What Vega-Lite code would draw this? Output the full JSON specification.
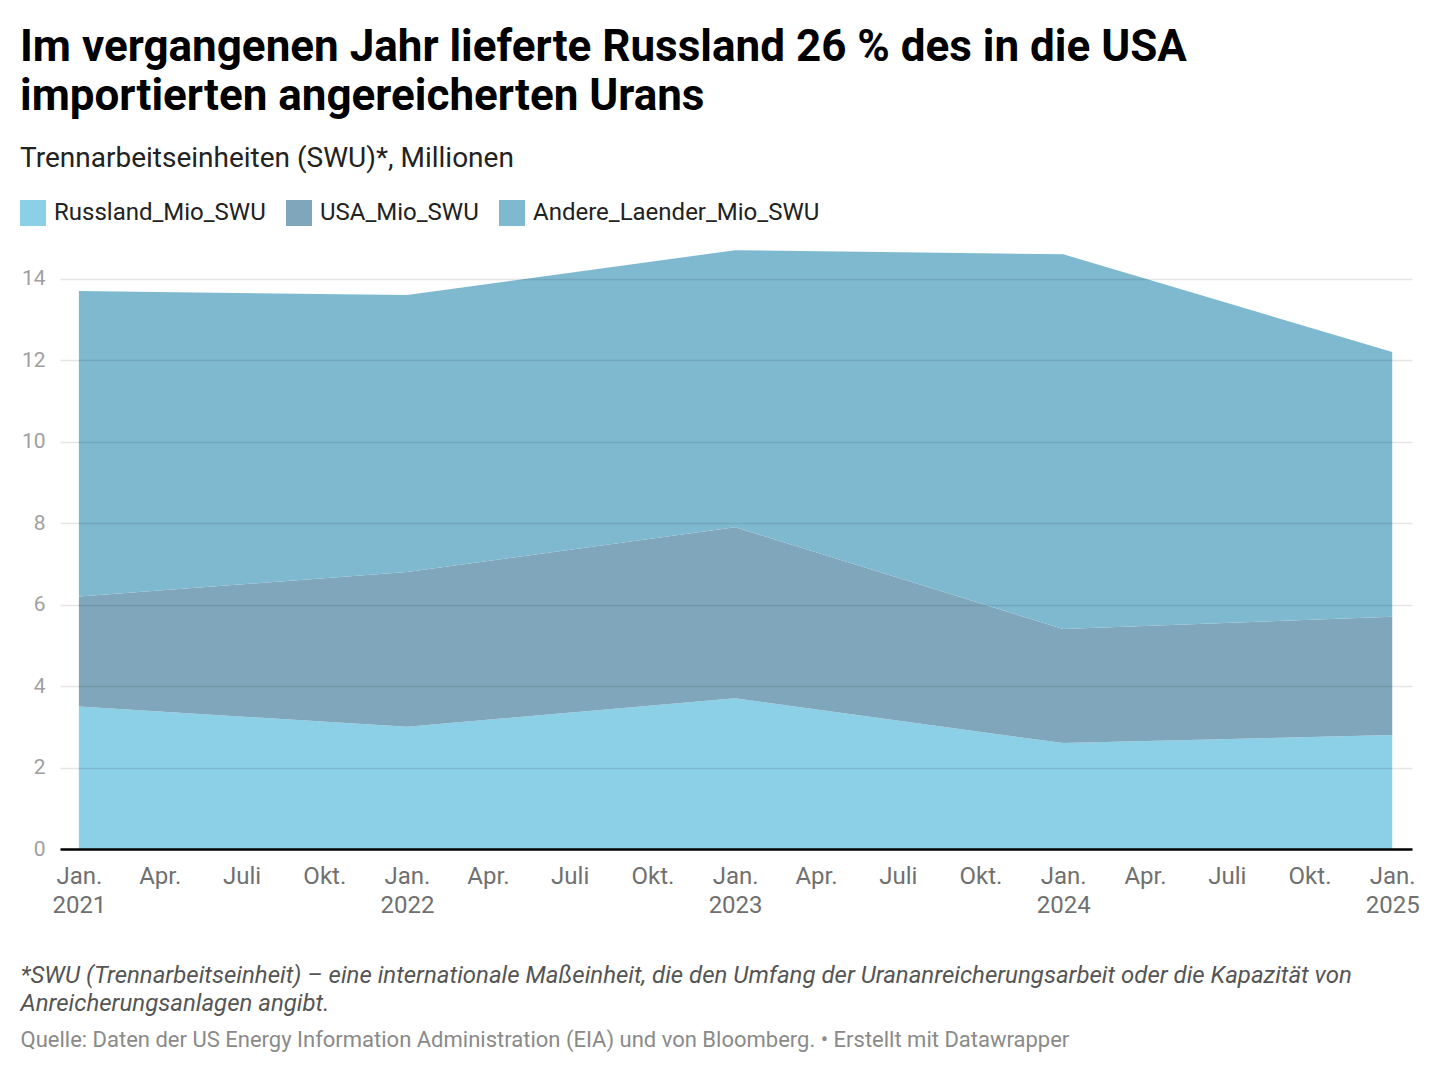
{
  "$schema": "https://vega.github.io/schema/vega-lite/v6.json",
  "width": 1352,
  "height": 611,
  "autosize": "none",
  "padding": {"left": 60, "top": 238, "right": 28, "bottom": 223},
  "background": "white",
  "config": {"font": "Roboto", "view": {"stroke": null}},
  "title": {
    "text": ["Im vergangenen Jahr lieferte Russland 26 % des in die USA", "importierten angereicherten Urans"],
    "subtitle": "Trennarbeitseinheiten (SWU)*, Millionen",
    "anchor": "start",
    "dx": 0,
    "offset": 27,
    "fontSize": 44,
    "fontWeight": "bold",
    "color": "#000000",
    "lineHeight": 49,
    "subtitleFont": "Roboto",
    "subtitleFontSize": 28,
    "subtitleColor": "#222222",
    "subtitlePadding": 26
  },
  "data": {
    "values": [
      {"Datum": "2021-01-01", "Land": "Russland_Mio_SWU", "Wert": 3.5},
      {"Datum": "2021-01-01", "Land": "USA_Mio_SWU", "Wert": 2.7},
      {"Datum": "2021-01-01", "Land": "Andere_Laender_Mio_SWU", "Wert": 7.5},
      {"Datum": "2022-01-01", "Land": "Russland_Mio_SWU", "Wert": 3.0},
      {"Datum": "2022-01-01", "Land": "USA_Mio_SWU", "Wert": 3.8},
      {"Datum": "2022-01-01", "Land": "Andere_Laender_Mio_SWU", "Wert": 6.8},
      {"Datum": "2023-01-01", "Land": "Russland_Mio_SWU", "Wert": 3.7},
      {"Datum": "2023-01-01", "Land": "USA_Mio_SWU", "Wert": 4.2},
      {"Datum": "2023-01-01", "Land": "Andere_Laender_Mio_SWU", "Wert": 6.8},
      {"Datum": "2024-01-01", "Land": "Russland_Mio_SWU", "Wert": 2.6},
      {"Datum": "2024-01-01", "Land": "USA_Mio_SWU", "Wert": 2.8},
      {"Datum": "2024-01-01", "Land": "Andere_Laender_Mio_SWU", "Wert": 9.2},
      {"Datum": "2025-01-01", "Land": "Russland_Mio_SWU", "Wert": 2.8},
      {"Datum": "2025-01-01", "Land": "USA_Mio_SWU", "Wert": 2.9},
      {"Datum": "2025-01-01", "Land": "Andere_Laender_Mio_SWU", "Wert": 6.5}
    ]
  },
  "transform": [
    {"calculate": "indexof(['Russland_Mio_SWU', 'USA_Mio_SWU', 'Andere_Laender_Mio_SWU'], datum.Land)", "as": "Reihenfolge"}
  ],
  "layer": [
    {
      "mark": {"type": "area", "opacity": 1, "interpolate": "linear"},
      "encoding": {
        "x": {
          "field": "Datum",
          "type": "temporal",
          "scale": {
            "type": "utc",
            "domain": [
              {"year": 2020, "month": 12, "date": 11, "utc": true},
              {"year": 2025, "month": 1, "date": 23, "utc": true}
            ]
          },
          "axis": {
            "tickCount": {"interval": "month", "step": 3},
            "labelExpr": "utcmonth(datum.value) == 0 ? ['Jan.', utcFormat(datum.value, '%Y')] : utcmonth(datum.value) == 3 ? 'Apr.' : utcmonth(datum.value) == 6 ? 'Juli' : 'Okt.'",
            "labelFontSize": 24,
            "labelColor": "#707070",
            "labelLineHeight": 29,
            "labelPadding": 15,
            "labelFlush": false,
            "labelOverlap": false,
            "ticks": false,
            "grid": false,
            "domainColor": "#000000",
            "domainWidth": 2.5,
            "zindex": 1,
            "title": [
              "*SWU (Trennarbeitseinheit) – eine internationale Maßeinheit, die den Umfang der Urananreicherungsarbeit oder die Kapazität von",
              "Anreicherungsanlagen angibt."
            ],
            "titleFont": "Roboto",
            "titleFontSize": 24,
            "titleFontStyle": "italic",
            "titleFontWeight": "normal",
            "titleColor": "#555555",
            "titleLineHeight": 28,
            "titleLimit": 2000,
            "titleAnchor": "start",
            "titleAlign": "left",
            "titleBaseline": "alphabetic",
            "titleX": -40,
            "titleY": 133
          }
        },
        "y": {
          "field": "Wert",
          "type": "quantitative",
          "stack": "zero",
          "scale": {"domain": [0, 15], "nice": false},
          "axis": {
            "values": [0, 2, 4, 6, 8, 10, 12, 14],
            "title": null,
            "domain": false,
            "ticks": false,
            "labelFontSize": 21,
            "labelColor": "#a0a0a0",
            "labelPadding": 15,
            "gridColor": "#000000",
            "gridOpacity": 0.1,
            "gridWidth": 1.5,
            "zindex": 1
          }
        },
        "color": {
          "field": "Land",
          "type": "nominal",
          "scale": {
            "domain": ["Russland_Mio_SWU", "USA_Mio_SWU", "Andere_Laender_Mio_SWU"],
            "range": ["#8cd0e8", "#7fa6bb", "#7fb9d0"]
          },
          "legend": {
            "title": null,
            "orient": "none",
            "legendX": -40,
            "legendY": -38,
            "direction": "horizontal",
            "symbolType": "square",
            "symbolSize": 676,
            "symbolStrokeWidth": 0,
            "symbolOpacity": 1,
            "labelFontSize": 24,
            "labelColor": "#222222",
            "labelOffset": 8,
            "columnPadding": 20,
            "labelLimit": 400
          }
        },
        "order": {"field": "Reihenfolge", "type": "quantitative", "sort": "ascending"}
      }
    },
    {
      "mark": {"type": "rule", "opacity": 0},
      "encoding": {
        "x": {
          "field": "Datum",
          "type": "temporal",
          "axis": {
            "orient": "bottom",
            "labels": false,
            "ticks": false,
            "domain": false,
            "grid": false,
            "title": "Quelle: Daten der US Energy Information Administration (EIA) und von Bloomberg. • Erstellt mit Datawrapper",
            "titleFont": "Roboto",
            "titleFontSize": 22,
            "titleFontWeight": "normal",
            "titleColor": "#8a8a8a",
            "titleLimit": 2000,
            "titleAnchor": "start",
            "titleAlign": "left",
            "titleBaseline": "alphabetic",
            "titleX": -40,
            "titleY": 197
          }
        }
      }
    }
  ],
  "resolve": {"axis": {"x": "independent"}}
}
